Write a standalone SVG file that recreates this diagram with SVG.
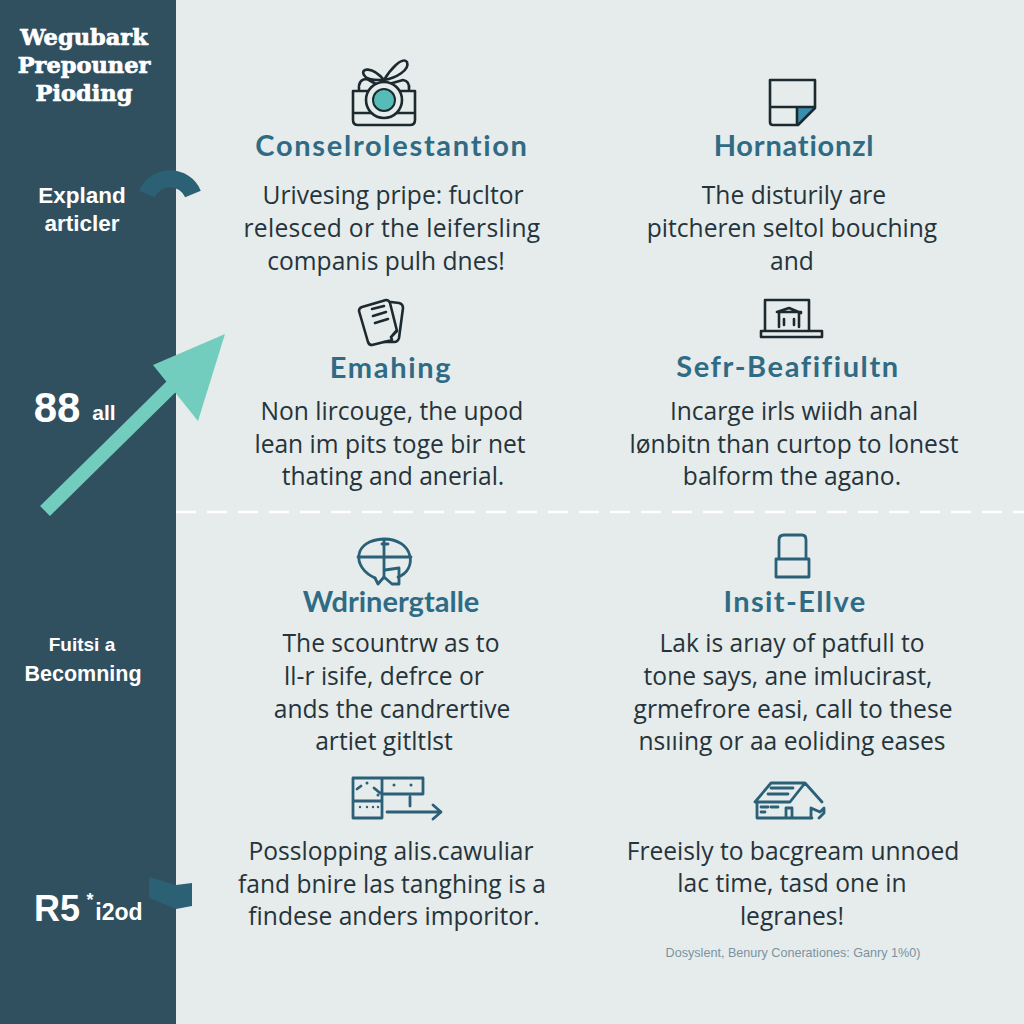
<svg xmlns="http://www.w3.org/2000/svg" width="1024" height="1024" viewBox="0 0 1024 1024">
<style>
.side{fill:#fff;font-family:"Liberation Sans",Arial,sans-serif;font-weight:700;text-anchor:middle}
.title{fill:#fff;stroke:#fff;stroke-width:.7;font-family:"DejaVu Serif",serif;font-weight:700;font-size:22.5px;text-anchor:middle}
.h{fill:#2f6b85;font-family:"Lato","Open Sans",sans-serif;font-weight:700;font-size:29px;text-anchor:middle}
.b{fill:#25343b;font-family:"Open Sans","Liberation Sans",sans-serif;font-size:24.6px;text-anchor:middle}
.ik{fill:none;stroke:#1c2a30;stroke-width:2.6;stroke-linejoin:round;stroke-linecap:round}
.ib{fill:none;stroke:#2a6078;stroke-width:2.8;stroke-linejoin:round;stroke-linecap:round}
.d{fill:#2a6078}
</style>
<rect width="1024" height="1024" fill="#e6ebeb"/>
<rect width="176" height="1024" fill="#30505f"/>
<g id="connectors">
<line x1="176" y1="512" x2="1024" y2="512" stroke="#fff" stroke-width="2.5" stroke-dasharray="20 11"/>
<path d="M147 194A25 25 0 0 1 193 194" fill="none" stroke="#2c6075" stroke-width="17"/>
<path d="M149 877L176 885L192 883V906L176 909L149 898Z" fill="#2c6075"/>
<path d="M45 511L178 380" fill="none" stroke="#72cdbf" stroke-width="14"/>
<path d="M225 334L198 421L153 365Z" fill="#72cdbf"/>
</g>
<g id="sidebar">
<text class="title"><tspan x="84" y="45">Wegubark</tspan><tspan x="84" y="73">Prepouner</tspan><tspan x="84" y="101">Pioding</tspan></text>
<text class="side" font-size="22.5"><tspan x="82" y="203">Expland</tspan><tspan x="82" y="231">articler</tspan></text>
<text class="side" font-size="42" x="57" y="422">88</text><text class="side" font-size="21" x="104" y="420">all</text>
<text class="side" font-size="19" x="82" y="651">Fuitsi a</text>
<text class="side" font-size="21.5" x="83" y="681">Becomning</text>
<text class="side" font-size="36" x="57" y="921">R5</text><text class="side" font-size="18" x="90" y="906">*</text><text class="side" font-size="23" x="119" y="920">i2od</text>
</g>
<g id="node-1">
<path class="ik" d="M353 91H415V120Q415 125 410 125H358Q353 125 353 120ZM353 113H415M359 90Q358 79 367 79L376 84M389 84L403 80Q410 81 409 90"/>
<path class="ik" d="M384 80C372 66 360 68 364 75C367 81 378 80 384 80C390 70 402 56 407 62C410 70 396 78 384 80"/>
<circle cx="384" cy="100" r="18" fill="#e6ebeb" stroke="#1c2a30" stroke-width="2.6"/><circle cx="384" cy="100" r="11" fill="#55bcb8" stroke="#1c2a30" stroke-width="2"/>
<text class="h" x="392" y="156" letter-spacing="1.7">Conselrolestantion</text>
<text class="b"><tspan x="393" y="204">Urivesing pripe: fucltor</tspan><tspan x="392" y="237" letter-spacing=".3">relesced or the leifersling</tspan><tspan x="386" y="270">companis pulh dnes!</tspan></text>
</g>
<g id="node-2">
<path d="M797 108H815L797 125Z" fill="#3a8fb0"/>
<path class="ik" d="M770 80H815V108L798 125H773Q770 125 770 122ZM770 107H815M797 108V125"/>
<text class="h" x="794" y="156" letter-spacing=".8">Hornationzl</text>
<text class="b"><tspan x="794" y="204">The disturily are</tspan><tspan x="792" y="237">pitcheren seltol bouching</tspan><tspan x="792" y="270">and</tspan></text>
</g>
<g id="node-3">
<path class="ik" d="M391 302L399 303Q403 304 403 308L399 338Q398 342 394 342L384 342"/>
<path class="ik" d="M362 307L386 300Q389 300 390 303L397 331L391 337L392 340L372 345Q369 345 368 342L359 311Q359 308 362 307ZM391 337L396 331M372 309L384 306M373 316L386 312M375 323L388 319"/>
<text class="h" x="391" y="378" letter-spacing="1.7">Emahing</text>
<text class="b"><tspan x="392" y="420">Non lircouge, the upod</tspan><tspan x="390" y="453">lean im pits toge bir net</tspan><tspan x="393" y="485">thating and anerial.</tspan></text>
</g>
<g id="node-4">
<path class="ik" d="M765 331V300H809V331M761 331H822V337H761ZM777 312L789 308L801 313M777 312H801M779 313V327M799 313V327M784 319V325M794 319V325"/>
<text class="h" x="788" y="377" letter-spacing="1.6">Sefr-Beafifiultn</text>
<text class="b"><tspan x="794" y="420">Incarge irls wiidh anal</tspan><tspan x="794" y="453">lønbitn than curtop to lonest</tspan><tspan x="792" y="485">balform the agano.</tspan></text>
</g>
<g id="node-5">
<path class="ib" d="M375 578C352 568 352 540 384 539C414 539 418 570 398 577M358 557H411M384 539V578M382 544H388"/>
<path class="ib" d="M375 578L378 584L384 577L392 584H399V568L385 570"/>
<text class="h" x="391" y="612">Wdrinergtalle</text>
<text class="b"><tspan x="391" y="652">The scountrw as to</tspan><tspan x="384" y="685">ll-r isife, defrce or</tspan><tspan x="392" y="718">ands the candrertive</tspan><tspan x="384" y="750">artiet gitltlst</tspan></text>
</g>
<g id="node-6">
<path class="ib" d="M779 559V540Q779 535 784 535H802Q806 535 806 540V559M776 559H809V577H776Z" stroke-width="3"/>
<text class="h" x="795" y="612" letter-spacing="1.4">Insit-Ellve</text>
<text class="b"><tspan x="792" y="652">Lak is arıay of patfull to</tspan><tspan x="788" y="685">tone says, ane imlucirast,</tspan><tspan x="793" y="718">grmefrore easi, call to these</tspan><tspan x="792" y="750">nsııing or aa eoliding eases</tspan></text>
</g>
<g id="node-7">
<path class="ib" d="M353 778H382V818H353ZM382 778H423V794H382ZM353 801H382M387 812H441M433 805L441 812L433 819M410 797V806M357 789L361 786M374 788L380 793"/>
<circle class="d" cx="367" cy="783" r="1.5"/><circle class="d" cx="378" cy="795" r="1.5"/><circle class="d" cx="394" cy="785" r="1.5"/><circle class="d" cx="411" cy="785" r="1.5"/><circle class="d" cx="360" cy="807" r="1.2"/><circle class="d" cx="367" cy="807" r="1.2"/><circle class="d" cx="373" cy="807" r="1.2"/><circle class="d" cx="378" cy="807" r="1.2"/>
<text class="b"><tspan x="391" y="860">Posslopping alis.cawuliar</tspan><tspan x="392" y="893">fand bnire las tanghing is a</tspan><tspan x="394" y="925">findese anders imporitor.</tspan></text>
</g>
<g id="node-8">
<path class="ib" d="M755 802L771 783H805L822 802M805 783L790 802H757V818H812M771 788H793M768 794H788M786 818V808H792V818M761 807H768M761 812H765M771 807H778M811 818V808L820 812L824 808V813L819 818"/>
<text class="b"><tspan x="793" y="860">Freeisly to bacgream unnoed</tspan><tspan x="792" y="892">lac time, tasd one in</tspan><tspan x="792" y="925">legranes!</tspan></text>
</g>
<text id="footnote" x="793" y="957" fill="#7a93a3" font-family="'Liberation Sans',sans-serif" font-size="12.6" text-anchor="middle">Dosyslent, Benury Conerationes: Ganry 1%0)</text>
</svg>
